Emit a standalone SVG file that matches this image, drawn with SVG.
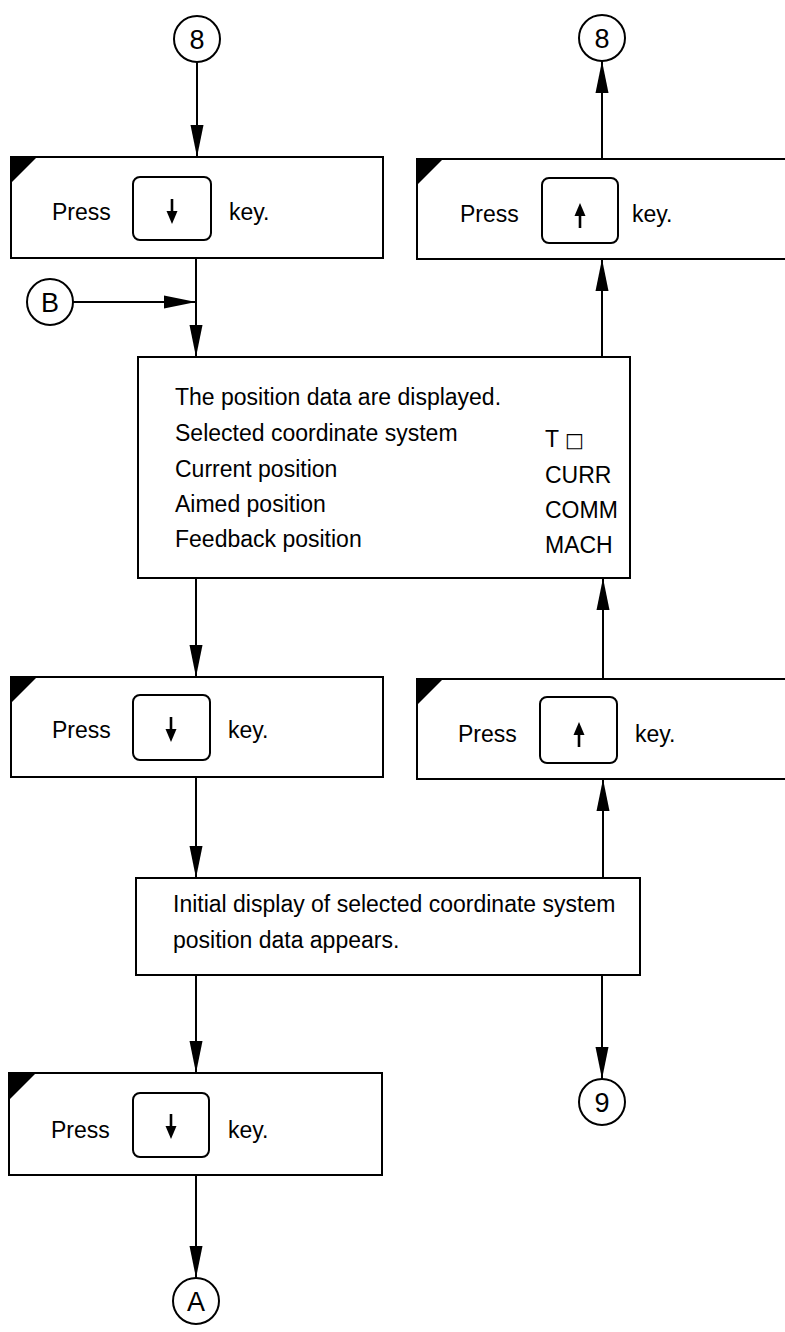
<svg xmlns="http://www.w3.org/2000/svg" width="785" height="1332" viewBox="0 0 785 1332">
  <style>
    .box { fill: #fff; stroke: #000; stroke-width: 2; }
    .key { fill: #fff; stroke: #000; stroke-width: 2; }
    .corner { fill: #000; }
    .conn { fill: none; stroke: #000; stroke-width: 2; marker-end: url(#head); }
    .circ { fill: #fff; stroke: #000; stroke-width: 2; }
    .t { font-family: "Liberation Sans", Arial, Helvetica, sans-serif; font-size: 23px; fill: #000; }
    .lbl { font-family: "Liberation Sans", Arial, Helvetica, sans-serif; font-size: 27px; fill: #000; text-anchor: middle; }
    .stem { stroke: #000; stroke-width: 2.6; }
  </style>
  <defs>
    <marker id="head" markerUnits="userSpaceOnUse" markerWidth="32" markerHeight="14" refX="32" refY="7" orient="auto">
      <path d="M0,0.5 L32,7 L0,13.5 Z" fill="#000"/>
    </marker>
  </defs>

  <rect width="785" height="1332" fill="#fff"/>

  <!-- connectors -->
  <g id="connectors">
    <line class="conn" x1="197" y1="62" x2="197" y2="157"/>
    <line class="conn" x1="196" y1="258" x2="196" y2="357"/>
    <line class="conn" x1="73" y1="302" x2="196" y2="302"/>
    <line class="conn" x1="196" y1="578" x2="196" y2="677"/>
    <line class="conn" x1="196" y1="777" x2="196" y2="878"/>
    <line class="conn" x1="196" y1="975" x2="196" y2="1073"/>
    <line class="conn" x1="196" y1="1175" x2="196" y2="1278"/>
    <line class="conn" x1="602" y1="159" x2="602" y2="61"/>
    <line class="conn" x1="602" y1="357" x2="602" y2="259"/>
    <line class="conn" x1="603" y1="679" x2="603" y2="578"/>
    <line class="conn" x1="603" y1="878" x2="603" y2="779"/>
    <line class="conn" x1="602" y1="975" x2="602" y2="1079"/>
  </g>

  <!-- off-page connectors -->
  <g id="c8-left">
    <circle class="circ" cx="197" cy="39" r="23"/>
    <text class="lbl" x="197" y="49">8</text>
  </g>
  <g id="c8-right">
    <circle class="circ" cx="602" cy="38" r="23"/>
    <text class="lbl" x="602" y="48">8</text>
  </g>
  <g id="cB">
    <circle class="circ" cx="50" cy="302" r="23"/>
    <text class="lbl" x="50" y="312">B</text>
  </g>
  <g id="c9">
    <circle class="circ" cx="602" cy="1102" r="23"/>
    <text class="lbl" x="602" y="1112">9</text>
  </g>
  <g id="cA">
    <circle class="circ" cx="196" cy="1301" r="23"/>
    <text class="lbl" x="196" y="1311">A</text>
  </g>

  <!-- press down key (top) -->
  <g id="press-down-1">
    <rect class="box" x="11" y="157" width="372" height="101"/>
    <path class="corner" d="M11,157 H37 L11,183 Z"/>
    <text class="t" x="52" y="220">Press</text>
    <rect class="key" x="133" y="177" width="78" height="63" rx="7"/>
    <line class="stem" x1="172" y1="199" x2="172" y2="213"/>
    <path d="M166.5,211 L177.5,211 L172,224 Z"/>
    <text class="t" x="229" y="220">key.</text>
  </g>

  <!-- press up key (top) -->
  <g id="press-up-1">
    <rect class="box" x="417" y="159" width="380" height="100"/>
    <path class="corner" d="M417,159 H443 L417,185 Z"/>
    <text class="t" x="460" y="222">Press</text>
    <rect class="key" x="542" y="178" width="76" height="65" rx="7"/>
    <line class="stem" x1="580" y1="214" x2="580" y2="228"/>
    <path d="M574.5,216 L585.5,216 L580,203 Z"/>
    <text class="t" x="632" y="222">key.</text>
  </g>

  <!-- position data display -->
  <g id="position-data">
    <rect class="box" x="138" y="357" width="492" height="221"/>
    <text class="t" x="175" y="405">The position data are displayed.</text>
    <text class="t" x="175" y="441">Selected coordinate system</text>
    <text class="t" x="175" y="477">Current position</text>
    <text class="t" x="175" y="512">Aimed position</text>
    <text class="t" x="175" y="547">Feedback position</text>
    <text class="t" x="545" y="447">T <tspan font-family="DejaVu Sans, sans-serif" font-size="20">□</tspan></text>
    <text class="t" x="545" y="483">CURR</text>
    <text class="t" x="545" y="518">COMM</text>
    <text class="t" x="545" y="553">MACH</text>
  </g>

  <!-- press down key (middle) -->
  <g id="press-down-2">
    <rect class="box" x="11" y="677" width="372" height="100"/>
    <path class="corner" d="M11,677 H37 L11,703 Z"/>
    <text class="t" x="52" y="738">Press</text>
    <rect class="key" x="133" y="695" width="77" height="65" rx="7"/>
    <line class="stem" x1="171" y1="717" x2="171" y2="731"/>
    <path d="M165.5,729 L176.5,729 L171,742 Z"/>
    <text class="t" x="228" y="738">key.</text>
  </g>

  <!-- press up key (middle) -->
  <g id="press-up-2">
    <rect class="box" x="417" y="679" width="380" height="100"/>
    <path class="corner" d="M417,679 H443 L417,705 Z"/>
    <text class="t" x="458" y="742">Press</text>
    <rect class="key" x="540" y="697" width="77" height="66" rx="7"/>
    <line class="stem" x1="579" y1="733" x2="579" y2="747"/>
    <path d="M573.5,735 L584.5,735 L579,722 Z"/>
    <text class="t" x="635" y="742">key.</text>
  </g>

  <!-- initial display -->
  <g id="initial-display">
    <rect class="box" x="136" y="878" width="504" height="97"/>
    <text class="t" x="173" y="912">Initial display of selected coordinate system</text>
    <text class="t" x="173" y="948">position data appears.</text>
  </g>

  <!-- press down key (bottom) -->
  <g id="press-down-3">
    <rect class="box" x="9" y="1073" width="373" height="102"/>
    <path class="corner" d="M9,1073 H36 L9,1100 Z"/>
    <text class="t" x="51" y="1138">Press</text>
    <rect class="key" x="133" y="1093" width="76" height="64" rx="7"/>
    <line class="stem" x1="171" y1="1114" x2="171" y2="1128"/>
    <path d="M165.5,1126 L176.5,1126 L171,1139 Z"/>
    <text class="t" x="228" y="1138">key.</text>
  </g>
</svg>
